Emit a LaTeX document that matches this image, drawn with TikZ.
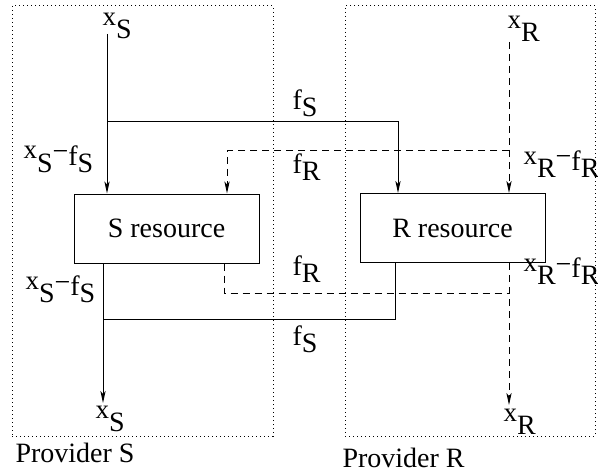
\documentclass[tikz,border=0pt]{standalone}
\usepackage{fontspec}
\setmainfont{Liberation Serif}
\usetikzlibrary{arrows.meta,positioning}
\newcommand{\xlab}[1]{\raisebox{3pt}{\fontsize{13.5}{14}\selectfont x}\raisebox{-3.5pt}{#1}}
\newcommand{\flab}[1]{f\raisebox{-3.5pt}{#1}}
\newcommand{\xflab}[1]{\xlab{#1}\raisebox{2pt}{−}\flab{#1}}
\begin{document}
\begin{tikzpicture}[x=0.5pt, y=-0.5pt,
  font=\fontsize{14}{16}\selectfont, >={Stealth[length=6pt,width=2.6pt,inset=1.5pt]},
  line width=0.5pt,
  prov/.style={draw, dash pattern=on 0.5pt off 1.5pt, inner sep=0pt},
  res/.style={draw, minimum width=92.5pt, minimum height=34.5pt, inner sep=0pt},
  lbl/.style={anchor=base west, inner sep=0pt},
  flow/.style={dash pattern=on 3.5pt off 2.5pt}]
\useasboundingbox (0,0) rectangle (598,470);
% ---------------- providers ----------------
\node[prov, minimum width=130.5pt, minimum height=215pt] (provS) at (142.5,221) {};
\node[prov, minimum width=125pt, minimum height=215pt] (provR) at (470,221) {};
\node[lbl] (provSlbl) at (15,462) {Provider S};
\node[lbl] (provRlbl) at (342,467) {Provider R};
% ---------------- resources ----------------
\node[res] (Sres) at (166.5,228.5) {S resource};
\node[res] (Rres) at (452.5,228) {R resource};
% ---------------- inputs ----------------
\node[lbl] (xSin) at (102,32) {\xlab{S}};
\node[lbl] (xRin) at (507,35) {\xlab{R}};
\coordinate (sIn) at (107,34);
\coordinate (rIn) at (509,42);
\coordinate (fsTop) at (398,122);
\coordinate (frTop) at (227,151);
\draw[->] (sIn) -- (sIn |- Sres.north);
\draw[->] (sIn |- fsTop) -- (fsTop) -- (fsTop |- Rres.north);
\draw[flow, ->] (rIn) -- (rIn |- Rres.north);
\draw[flow, ->] (rIn |- frTop) -- (frTop) -- (frTop |- Sres.north);
\node[lbl] (fSup) at (292,110) {\flab{S}};
\node[lbl] (fRup) at (292,173) {\flab{R}};
\node[lbl] (xSup) at (23,165) {\xflab{S}};
\node[lbl] (xRup) at (523,170) {\xflab{R}};
% ---------------- outputs ----------------
\coordinate (sOut) at (103,403);
\coordinate (rOut) at (509,405);
\coordinate (fsBot) at (395,319);
\coordinate (frBot) at (224,293);
\draw[->] (sOut |- Sres.south) -- (sOut);
\draw[flow, ->] (rOut |- Rres.south) -- (rOut);
\draw (sOut |- fsBot) -- (fsBot) -- (fsBot |- Rres.south);
\draw[flow] (frBot |- Sres.south) -- (frBot) -- (frBot -| rOut);
\node[lbl] (fRdn) at (292,275) {\flab{R}};
\node[lbl] (fSdn) at (292,345) {\flab{S}};
\node[lbl] (xSdn) at (25,295) {\xflab{S}};
\node[lbl] (xRdn) at (523,277) {\xflab{R}};
\node[lbl] (xSout) at (95,424) {\xlab{S}};
\node[lbl] (xRout) at (503,427) {\xlab{R}};
\end{tikzpicture}
\end{document}
